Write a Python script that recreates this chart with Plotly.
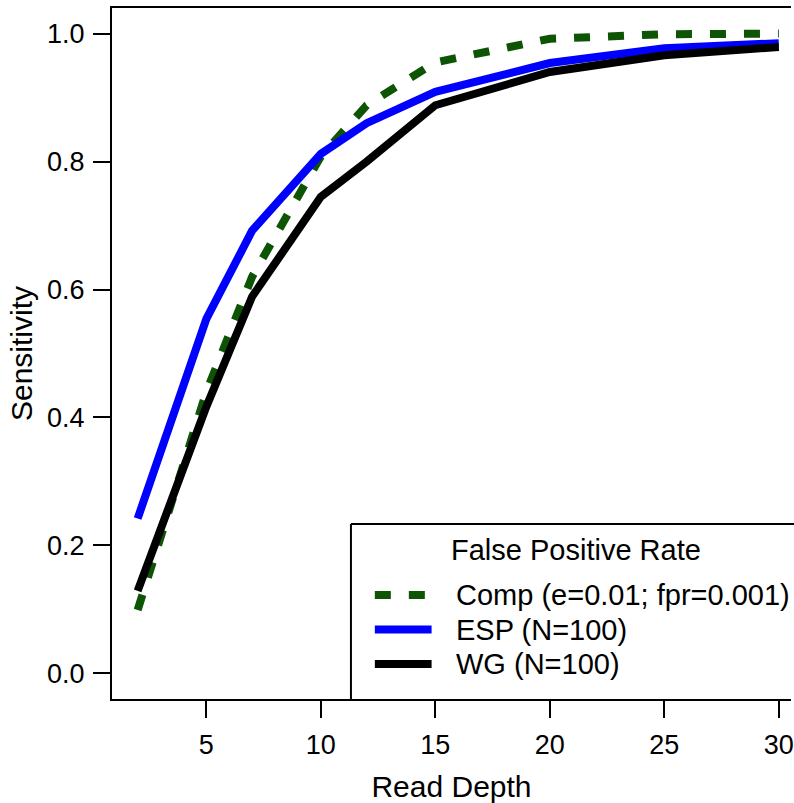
import plotly.graph_objects as go

# ---- data ----
read_depth = [2, 5, 7, 10, 12, 15, 20, 25, 30]
comp_sens = [0.099, 0.44, 0.62, 0.808, 0.888, 0.955, 0.992, 0.999, 1.0]
esp_sens = [0.242, 0.554, 0.692, 0.812, 0.860, 0.909, 0.954, 0.977, 0.985]
wg_sens = [0.129, 0.417, 0.589, 0.745, 0.800, 0.888, 0.940, 0.966, 0.979]

series_names = ["Comp (e=0.01; fpr=0.001)", "ESP (N=100)", "WG (N=100)"]
legend_title = "False Positive Rate"
x_title = "Read Depth"
y_title = "Sensitivity"
x_ticks = [5, 10, 15, 20, 25, 30]
y_ticks = [0.0, 0.2, 0.4, 0.6, 0.8, 1.0]
y_ticklabels = ["0.0", "0.2", "0.4", "0.6", "0.8", "1.0"]

GREEN = "#0d5404"
BLUE = "#0000ff"
BLACK = "#000000"
FONT = "Liberation Sans, Arial, sans-serif"
LW = 8
DASH = "16px,18px"

fig = go.Figure()
fig.add_trace(go.Scatter(x=read_depth, y=comp_sens, mode="lines", name=series_names[0],
                         line=dict(color=GREEN, width=LW, dash=DASH), showlegend=False))
fig.add_trace(go.Scatter(x=read_depth, y=esp_sens, mode="lines", name=series_names[1],
                         line=dict(color=BLUE, width=LW), showlegend=False))
fig.add_trace(go.Scatter(x=read_depth, y=wg_sens, mode="lines", name=series_names[2],
                         line=dict(color=BLACK, width=LW), showlegend=False))

W, H = 794, 803
ml, mr, mt, mb = 112, 0, 8, 104
pw, ph = W - ml - mr, H - mt - mb

def px(x):
    return (x - ml) / pw

def py(y):
    return (H - mb - y) / ph

# legend box (left + top edges; bottom coincides with axis, right is off-canvas)
lx0, ly0 = 352, 524
shapes = [
    dict(type="line", xref="paper", yref="paper", x0=px(lx0), x1=px(lx0), y0=0, y1=py(ly0),
         line=dict(color="black", width=2)),
    dict(type="line", xref="paper", yref="paper", x0=px(lx0), x1=1.02, y0=py(ly0), y1=py(ly0),
         line=dict(color="black", width=2)),
]
entry_y = [595, 629.5, 664]
entry_colors = [GREEN, BLUE, BLACK]
entry_dash = [DASH, "solid", "solid"]
annotations = [
    dict(text=legend_title, xref="paper", yref="paper", x=px(578), y=py(550),
         xanchor="center", yanchor="middle", showarrow=False,
         font=dict(family=FONT, size=29, color="black")),
]
for name, yy, col, dsh in zip(series_names, entry_y, entry_colors, entry_dash):
    shapes.append(dict(type="line", xref="paper", yref="paper", x0=px(376), x1=px(433),
                       y0=py(yy), y1=py(yy), line=dict(color=col, width=LW, dash=dsh)))
    annotations.append(dict(text=name, xref="paper", yref="paper", x=px(456), y=py(yy),
                            xanchor="left", yanchor="middle", showarrow=False,
                            font=dict(family=FONT, size=29, color="black")))

fig.update_layout(
    width=W, height=H,
    margin=dict(l=ml, r=mr, t=mt, b=mb, pad=0),
    paper_bgcolor="white", plot_bgcolor="white",
    font=dict(family=FONT, size=27, color="black"),
    shapes=shapes, annotations=annotations,
    showlegend=False,
)
fig.update_xaxes(
    range=[0.88, 0.88 + pw / 23.0],
    tickvals=x_ticks, ticktext=[str(v) for v in x_ticks],
    ticks="outside", ticklen=17, tickwidth=2, tickcolor="black",
    showline=True, linewidth=2, linecolor="black", mirror=True,
    showgrid=False, zeroline=False,
    tickfont=dict(family=FONT, size=27),
    ticklabelstandoff=4, ticklabeloverflow="allow",
    title=dict(text=x_title, font=dict(family=FONT, size=30), standoff=17),
)
fig.update_yaxes(
    range=[-0.04, 1.04],
    tickvals=y_ticks, ticktext=y_ticklabels,
    ticks="outside", ticklen=17, tickwidth=2, tickcolor="black",
    showline=True, linewidth=2, linecolor="black", mirror=False,
    showgrid=False, zeroline=False,
    tickfont=dict(family=FONT, size=27),
    ticklabelstandoff=3,
    title=dict(text=y_title, font=dict(family=FONT, size=30), standoff=6),
)

fig.write_html("out.html")
